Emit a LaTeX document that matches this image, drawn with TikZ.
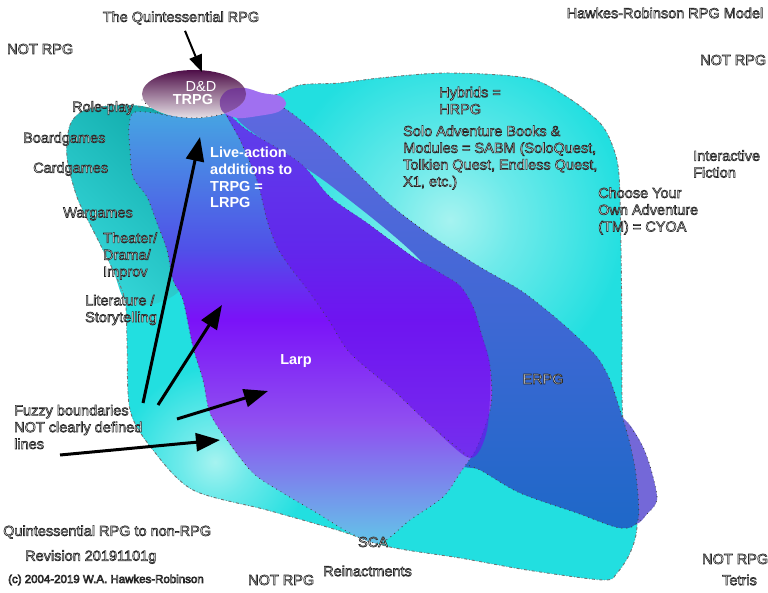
\documentclass[tikz,border=0pt]{standalone}
\usepackage{fontspec}
\setmainfont{Liberation Sans}
\usetikzlibrary{arrows.meta,shapes.geometric}

\definecolor{cyanbase}{HTML}{22DFE0}
\definecolor{cyanmid}{HTML}{6EEAEA}
\definecolor{cyanpale}{HTML}{A6F3F0}
\definecolor{tealdark}{HTML}{12ACAC}
\definecolor{teallight}{HTML}{36D8DA}
\definecolor{erpgtop}{HTML}{6068E0}
\definecolor{erpgbot}{HTML}{1E68C8}
\definecolor{violetb}{HTML}{7468D8}
\definecolor{lav}{HTML}{A070F0}
\definecolor{lavdark}{HTML}{6A2A9A}
\definecolor{plum}{HTML}{4E0E48}
\definecolor{plumlight}{HTML}{E6E0E6}
\definecolor{bandpurple}{HTML}{6A16EE}
\definecolor{txtfill}{HTML}{F4F4F4}
\definecolor{lc1}{HTML}{46A6E2}
\definecolor{lc2}{HTML}{5050E8}
\definecolor{lc3}{HTML}{7A12F8}
\definecolor{lc4}{HTML}{9050F0}
\definecolor{lc5}{HTML}{62C6E8}

\pgfdeclareradialshading{spot}{\pgfpointorigin}{color(0bp)=(cyanpale); color(9bp)=(cyanmid); color(25bp)=(cyanbase); color(50bp)=(cyanbase)}
\pgfdeclareverticalshading{larpshade}{100bp}{color(0bp)=(lc5); color(25bp)=(lc5); color(39bp)=(lc4); color(51bp)=(lc3); color(59bp)=(lc2); color(75bp)=(lc1); color(100bp)=(lc1)}

\newcommand\otx[1]{\special{pdf:literal direct 2 Tr 0.6 w 0.15 0.15 0.15 RG}#1\special{pdf:literal direct 0 Tr}}

\newcommand\bigblob{plot[smooth cycle, tension=0.5] coordinates {(150,108) (200,110) (240,100) (275,95) (300,85) (340,83) (380,78) (447,73) (527,78) (567,97) (600,123) (613,147) (619,175) (621,250) (622,330) (623,420) (636,470) (637,527) (630,553) (617,573) (603,580) (527,570) (460,558) (390,547) (337,530) (267,510) (193,490) (153,450) (130,410) (127,340) (125,300) (113,270) (93,230) (77,197) (67,157) (70,125) (85,110) (120,105)}}
\newcommand\ellclip{(194,94) ellipse [x radius=52pt, y radius=24pt]}
\newcommand\lavblob{plot[smooth cycle, tension=0.55] coordinates {(220,100) (228,90) (245,88) (262,93) (280,96) (286,104) (278,112) (258,116) (238,118) (223,112)}}

\begin{document}
\begin{tikzpicture}[x=1pt, y=-1pt,
  lbl/.style={font=\fontsize{14.5}{16.8}\selectfont, text=txtfill, align=left, inner sep=0pt, anchor=west},
  wlbl/.style={font=\bfseries\fontsize{14.5}{16.8}\selectfont, text=white, align=left, inner sep=0pt, anchor=west},
  dots/.style={draw=black!75, line width=1.2pt, dash pattern=on 0.01pt off 5pt, line cap=round},
  outer/.style={draw=black!55, line width=0.9pt, dash pattern=on 3pt off 2pt on 0.6pt off 2pt},
  arr/.style={line width=3pt, -{Triangle[length=24pt,width=18pt]}},
  arrsmall/.style={line width=2pt, -{Triangle[length=17pt,width=13pt]}}]
\useasboundingbox (0,0) rectangle (768,593);
\fill[white] (0,0) rectangle (768,593);

% big HRPG blob
\fill[cyanbase] \bigblob;
\begin{scope}
  \clip \bigblob;
  \shade[shading=spot] (450,220) circle [radius=175pt];
  \shade[shading=spot] (215,462) circle [radius=95pt];
\end{scope}
% teal left blob
\shade[left color=tealdark, right color=teallight, shading angle=-45]
  plot[smooth cycle, tension=0.5] coordinates {(70,125) (85,110) (120,105) (150,108) (175,125) (185,180) (190,250) (180,290) (150,305) (125,300) (113,270) (93,230) (77,197) (67,157)};
\path[outer] \bigblob;

% violet blob right
\fill[violetb] plot[smooth cycle, tension=0.5] coordinates {(612,418) (628,423) (643,447) (652,473) (657,500) (647,514) (636,524) (618,515)};
\path[dots] plot[smooth, tension=0.5] coordinates {(628,423) (643,447) (652,473) (657,500) (647,514) (636,524)};

% ERPG band
\shade[top color=erpgtop, bottom color=erpgbot]
  plot[smooth cycle, tension=0.5] coordinates {(238,120) (262,97) (290,112) (320,137) (357,173) (393,207) (433,237) (480,267) (520,290) (550,313) (573,333) (597,357) (610,380) (620,410) (629,440) (636,475) (638,520) (620,528) (577,513) (520,493) (480,470) (460,463) (470,420) (465,330) (420,260) (330,185)};
\path[dots] plot[smooth, tension=0.5] coordinates {(262,97) (290,112) (320,137) (357,173) (393,207) (433,237) (480,267) (520,290) (550,313) (573,333) (597,357) (610,380) (620,410) (629,440) (636,475) (638,520) (620,528) (577,513) (520,493) (480,470) (460,463)};

% LRPG / Larp blob
\shade[shading=larpshade]
  plot[smooth cycle, tension=0.5] coordinates {(135,112) (170,115) (200,118) (225,112) (247,130) (300,163) (330,197) (367,223) (413,257) (440,273) (460,286) (473,307) (481,333) (490,367) (491,405) (477,447) (460,473) (443,497) (410,520) (380,543) (350,533) (317,513) (283,493) (253,473) (227,440) (210,413) (203,380) (193,347) (183,300) (173,280) (167,250) (157,223) (147,197) (133,177) (130,150) (129,127)};
\path[dots] plot[smooth cycle, tension=0.5] coordinates {(135,112) (170,115) (200,118) (225,112) (247,130) (300,163) (330,197) (367,223) (413,257) (440,273) (460,286) (473,307) (481,333) (490,367) (491,405) (477,447) (460,473) (443,497) (410,520) (380,543) (350,533) (317,513) (283,493) (253,473) (227,440) (210,413) (203,380) (193,347) (183,300) (173,280) (167,250) (157,223) (147,197) (133,177) (130,150) (129,127)};

% middle purple band
\fill[bandpurple, opacity=0.7]
  plot[smooth cycle, tension=0.5] coordinates {(225,112) (240,140) (257,180) (267,220) (277,247) (290,267) (310,293) (330,322) (350,353) (393,390) (430,425) (470,458) (487,430) (490,367) (481,333) (473,307) (460,286) (440,273) (413,257) (367,223) (330,197) (300,163) (247,130)};
\path[dots] plot[smooth, tension=0.5] coordinates {(225,112) (240,140) (257,180) (267,220) (277,247) (290,267) (310,293) (330,322) (350,353) (393,390) (430,425) (470,458)};

% lavender blob and D&D ellipse
\fill[lav] \lavblob;
\node[ellipse, minimum width=104pt, minimum height=48pt, inner sep=0pt, outer sep=0pt,
  top color=plum, bottom color=plumlight] (dnd) at (194,94) {};
\begin{scope}
  \clip \ellclip;
  \fill[lavdark, opacity=0.7] \lavblob;
\end{scope}
\path[dots] plot[smooth, tension=0.5] coordinates {(142,100) (160,114) (194,118) (225,114)};

\node[font=\fontsize{14.5}{16.8}\selectfont, text=white, inner sep=0pt] (dd) at (201,87) {D\&D};
\node[wlbl, anchor=center] (trpg) at (193,100) {TRPG};

% labels
\node[lbl, anchor=center] (quint) at (181,18) {\otx{The Quintessential RPG}};
\node[lbl, anchor=center] (model) at (665,13) {\otx{Hawkes-Robinson RPG Model}};
\node[lbl] (n1) at (7,49) {\otx{NOT RPG}};
\node[lbl] (n2) at (700,60) {\otx{NOT RPG}};
\node[lbl] (role) at (72,108) {\otx{Role-play}};
\node[lbl] (board) at (23,139) {\otx{Boardgames}};
\node[lbl] (card) at (33,169) {\otx{Cardgames}};
\node[lbl] (war) at (63,214) {\otx{Wargames}};
\node[lbl] (theater) at (103,256) {\otx{Theater/\\Drama/\\Improv}};
\node[lbl] (lit) at (85,310) {\otx{Literature /\\Storytelling}};
\node[lbl] (fuzzy) at (14,427) {\otx{Fuzzy boundaries\\NOT clearly defined\\lines}};
\node[wlbl] (live) at (210,177.5) {Live-action\\additions to\\TRPG =\\LRPG};
\node[lbl] (hyb) at (439,100.5) {\otx{Hybrids =\\HRPG}};
\node[lbl] (solo) at (403,157.5) {\otx{Solo Adventure Books \&\\Modules = SABM (SoloQuest,\\Tolkien Quest, Endless Quest,\\X1, etc.)}};
\node[lbl] (inter) at (693,164) {\otx{Interactive\\Fiction}};
\node[lbl] (cyoa) at (598,211) {\otx{Choose Your\\Own Adventure\\(TM) = CYOA}};
\node[wlbl, anchor=center] (larp) at (296,361) {Larp};
\node[lbl, anchor=center] (erpg) at (543,379) {\otx{ERPG}};
\node[lbl, anchor=center] (sca) at (373,542) {\otx{SCA}};
\node[lbl] (reinact) at (323,571) {\otx{Reinactments}};
\node[lbl] (n3) at (248,580) {\otx{NOT RPG}};
\node[lbl] (n4) at (702,559) {\otx{NOT RPG}};
\node[lbl] (tetris) at (722,580) {\otx{Tetris}};
\node[lbl] (f1) at (3,532) {\otx{Quintessential RPG to non-RPG}};
\node[lbl] (f2) at (25,557) {\otx{Revision 20191101g}};
\node[lbl, font=\fontsize{11.5}{14}\selectfont] (f3) at (8,580) {\otx{(c) 2004-2019 W.A. Hawkes-Robinson}};

% arrows
\draw[arrsmall] ([xshift=4pt,yshift=-6pt]quint.south) -- ([xshift=8pt,yshift=-2pt]dnd.north);
\coordinate (a2s) at (143,403); \coordinate (a2e) at (200,137);
\coordinate (a3s) at (158,405); \coordinate (a3e) at (222,305);
\coordinate (a4s) at (177,419); \coordinate (a4e) at (268,391);
\coordinate (a5s) at (60,455);  \coordinate (a5e) at (220,440);
\draw[arr] (a2s) -- (a2e);
\draw[arr] (a3s) -- (a3e);
\draw[arr] (a4s) -- (a4e);
\draw[arr] (a5s) -- (a5e);
\end{tikzpicture}
\end{document}
